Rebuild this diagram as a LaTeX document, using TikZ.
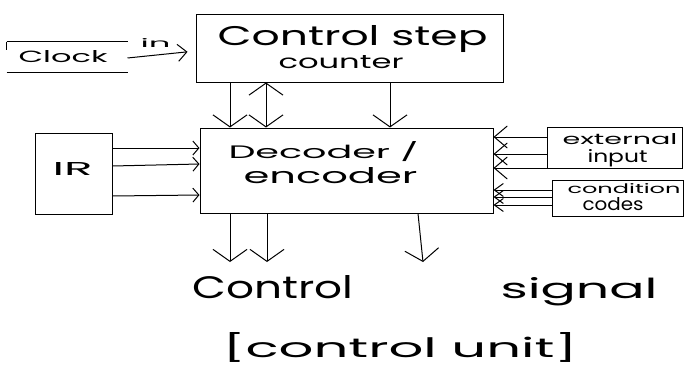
\documentclass[tikz,border=0pt]{standalone}
\usepackage{fontspec}
\setmainfont{Poppins}
\usepackage{graphicx}
\usetikzlibrary{arrows.meta}
\newcommand{\hw}[3]{\resizebox{#1pt}{#2pt}{#3}}
\begin{document}
\begin{tikzpicture}[x=1pt,y=-1pt,line width=1pt,
  box/.style={draw,rectangle,inner sep=0pt},
  lbl/.style={anchor=base west,inner sep=0pt},
  vbig/.style={-{Straight Barb[length=12pt,width=34pt]}},
  vboth/.style={{Straight Barb[length=12pt,width=34pt]}-{Straight Barb[length=12pt,width=34pt]}},
  irarr/.style={-{Straight Barb[length=6pt,width=14pt]}},
  extarr/.style={-{Straight Barb[length=13pt,width=22pt]}},
  ccarr/.style={-{Straight Barb[length=9pt,width=13pt]}},
  clkarr/.style={-{Straight Barb[length=9pt,width=17pt]}}]
\useasboundingbox (0,0) rectangle (686,375);
% boxes
\node[box,minimum width=307pt,minimum height=68pt] (ctr) at (349.5,48) {};
\node[box,minimum width=293pt,minimum height=85pt] (dec) at (346.5,170.5) {};
\node[box,minimum width=77pt,minimum height=81pt] (ir) at (73.5,173.5) {};
\node[box,minimum width=135pt,minimum height=41pt] (ext) at (614.5,147.5) {};
\node[box,minimum width=131pt,minimum height=36pt] (cc) at (617.5,198) {};
\node[inner sep=0pt,minimum width=120pt,minimum height=30pt] (clkbox) at (67,57) {};
\draw (clkbox.north west) -- (clkbox.north east);
\draw (clkbox.south west) -- (clkbox.south east);
\draw (clkbox.north west) -- ++(0,8);
% texts
\node[lbl] (tclk) at (18,62) {\hw{89}{12}{Clock}};
\node[lbl] (tin) at (140,47) {\hw{30}{9}{in}};
\node[lbl] (tctr1) at (217,45) {\hw{270}{20}{Control step}};
\node[lbl] (tctr2) at (278,68) {\hw{125}{13}{counter}};
\node[lbl] (tdec1) at (228,158) {\hw{190}{17}{Decoder /}};
\node[lbl] (tdec2) at (243,183) {\hw{174}{16}{encoder}};
\node[lbl] (tir) at (52,175) {\hw{40}{13}{IR}};
\node[lbl] (text1) at (562,144) {\hw{115}{11}{external}};
\node[lbl] (text2) at (587,162) {\hw{60}{13}{input}};
\node[lbl] (tcc1) at (567,193) {\hw{113}{10}{condition}};
\node[lbl] (tcc2) at (582,210) {\hw{61}{13}{codes}};
\node[lbl] (tcs1) at (192,298) {\hw{161}{23}{Control}};
\node[lbl] (tcs2) at (500,298) {\hw{157}{21}{signal}};
\node[lbl] (tcu) at (222,357) {\hw{355}{25}{[control unit]}};
% clock arrow
\draw[clkarr,shorten >=8pt] (clkbox.east |- 0,58) -- (ctr.west |- 0,51);
% counter <-> decoder
\draw[vbig] (ctr.south -| 230,0) -- (dec.north -| 230,0);
\draw[vboth] (ctr.south -| 266,0) -- (dec.north -| 266,0);
\draw[vbig] (ctr.south -| 390,0) -- (dec.north -| 390,0);
% IR -> decoder
\draw[irarr] (ir.east |- 0,148) -- (dec.west |- 0,148);
\draw[irarr] (ir.east |- 0,166) -- (dec.west |- 0,164);
\draw[irarr] (ir.east |- 0,196) -- (dec.west |- 0,195);
% external input -> decoder
\draw[extarr] (ext.west |- 0,137) -- (dec.east |- 0,137);
\draw[extarr] (ext.west |- 0,154) -- (dec.east |- 0,154);
\draw[extarr] (ext.west |- 0,168) -- (dec.east |- 0,168);
% condition codes -> decoder
\draw[ccarr] (cc.west |- 0,190) -- (dec.east |- 0,190);
\draw[ccarr] (cc.west |- 0,197) -- (dec.east |- 0,197);
\draw[ccarr] (cc.west |- 0,205) -- (dec.east |- 0,205);
% outputs
\coordinate (o1) at (230,262);
\coordinate (o2) at (267,262);
\coordinate (o3) at (423,262);
\draw[vbig] (dec.south -| o1) -- (o1);
\draw[vbig] (dec.south -| o2) -- (o2);
\draw[vbig] (dec.south -| 418,0) -- (o3);
\end{tikzpicture}
\end{document}
